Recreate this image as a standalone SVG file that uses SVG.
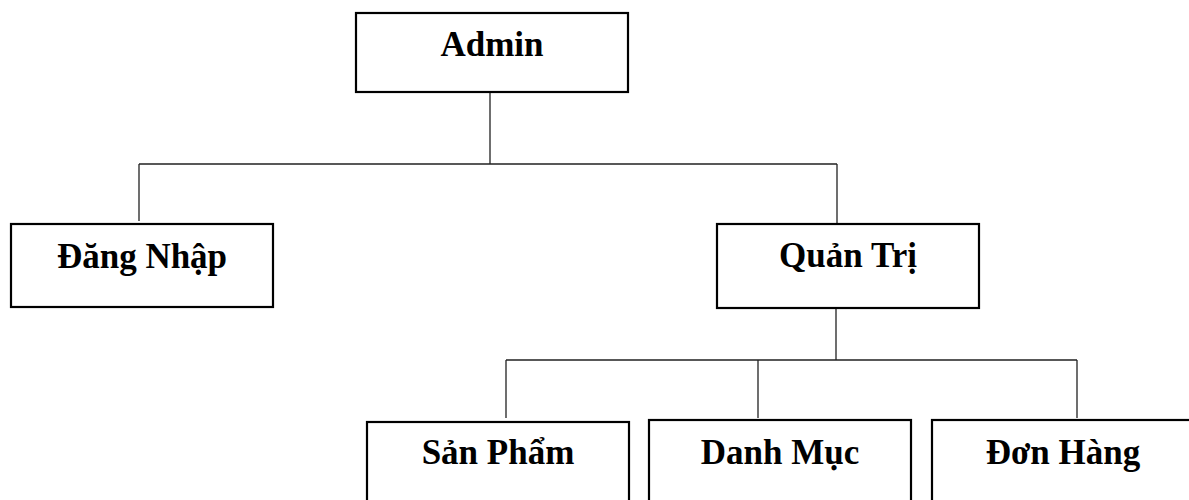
<svg xmlns="http://www.w3.org/2000/svg" width="1189" height="500" viewBox="0 0 1189 500">
<style>
.box{fill:#fff;stroke:#000;stroke-width:2.2}
.lbl{font-family:"Liberation Serif","Times New Roman",serif;font-weight:bold;font-size:35px;fill:#000;text-anchor:middle}
.conn{fill:none;stroke:#222;stroke-width:1.3}
</style>
<rect width="1189" height="500" fill="#fff"/>
<g id="connectors">
<path class="conn" d="M490 92 V164 M139 164 H837 M139 164 V221 M837 164 V224"/>
<path class="conn" d="M836 308 V360 M506 360 H1077 M506 360 V418 M758 360 V418 M1077 360 V418"/>
</g>
<g id="admin"><rect class="box" x="356" y="13" width="272" height="79"/><text class="lbl" x="492" y="56">Admin</text></g>
<g id="dangnhap"><rect class="box" x="11" y="224" width="262" height="83"/><text class="lbl" x="142" y="268">Đăng Nhập</text></g>
<g id="quantri"><rect class="box" x="717" y="224" width="262" height="84"/><text class="lbl" x="848" y="267">Quản Trị</text></g>
<g id="sanpham"><rect class="box" x="367" y="422" width="262" height="90"/><text class="lbl" x="498" y="464">Sản Phẩm</text></g>
<g id="danhmuc"><rect class="box" x="649" y="420" width="262" height="92"/><text class="lbl" x="780" y="464">Danh Mục</text></g>
<g id="donhang"><rect class="box" x="932" y="420" width="262" height="92"/><text class="lbl" x="1063" y="464">Đơn Hàng</text></g>
</svg>
